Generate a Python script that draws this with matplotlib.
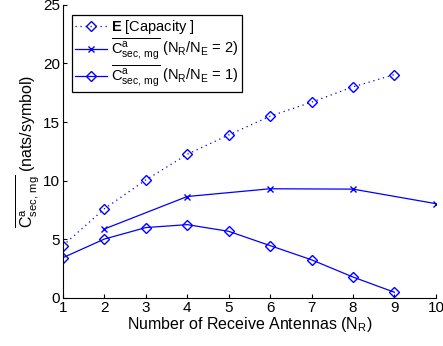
import matplotlib
matplotlib.use("Agg")
import matplotlib.pyplot as plt
import numpy as np

plt.rcParams['font.family'] = ['Liberation Sans', 'DejaVu Sans']
plt.rcParams['mathtext.fontset'] = 'custom'
plt.rcParams['mathtext.rm'] = 'Liberation Sans'
plt.rcParams['mathtext.it'] = 'Liberation Sans'
plt.rcParams['mathtext.bf'] = 'Liberation Sans:bold'

# data
n_cap = [1, 2, 3, 4, 5, 6, 7, 8, 9]
cap = [4.46, 7.6, 10.06, 12.25, 13.9, 15.5, 16.7, 18.0, 19.05]

n_r2 = [2, 4, 6, 8, 10]
r2 = [5.88, 8.65, 9.31, 9.28, 8.04]

n_r1 = [1, 2, 3, 4, 5, 6, 7, 8, 9]
r1 = [3.43, 5.02, 6.0, 6.25, 5.68, 4.46, 3.25, 1.78, 0.48]

xticks = list(range(1, 11))
yticks = [0, 5, 10, 15, 20, 25]

csec = r'$\overline{\mathrm{C}^{a}_{\mathrm{sec,\,mg}}}$'

fig = plt.figure(figsize=(4.43, 3.46), dpi=100)
ax = fig.add_axes([0.142, 0.139, 0.842, 0.847])

ax.plot(n_cap, cap, color='blue', ls=(0, (1, 3)), marker='D', mfc='none', ms=5.5, lw=0.9,
        label=r'$\mathbf{E}$ [Capacity ]')
ax.plot(n_r2, r2, '-', color='blue', marker='x', ms=4.5, lw=0.9,
        label=csec + r' (N$_R$/N$_E$ = 2)')
ax.plot(n_r1, r1, '-', color='blue', marker='D', mfc='none', ms=5.5, lw=0.9,
        label=csec + r' (N$_R$/N$_E$ = 1)')

ax.set_xlim(1, 10)
ax.set_ylim(0, 25)
ax.set_xticks(xticks)
ax.set_yticks(yticks)
ax.tick_params(direction='in', labelsize=11, length=3, pad=2)
ax.spines['top'].set_visible(False)
ax.spines['right'].set_visible(False)

ax.set_xlabel('Number of Receive Antennas (N$_R$)', fontsize=11.5, labelpad=0)
ax.set_ylabel(csec + ' (nats/symbol)', fontsize=11.5, labelpad=1)

leg = ax.legend(loc='upper left', bbox_to_anchor=(0.024, 0.966), fontsize=10.5,
                fancybox=False, edgecolor='black', framealpha=1,
                handlelength=2.2, borderpad=0.2, labelspacing=0.1,
                handletextpad=0.3, borderaxespad=0)
leg.get_frame().set_linewidth(0.9)

fig.savefig('out.png', dpi=100)
